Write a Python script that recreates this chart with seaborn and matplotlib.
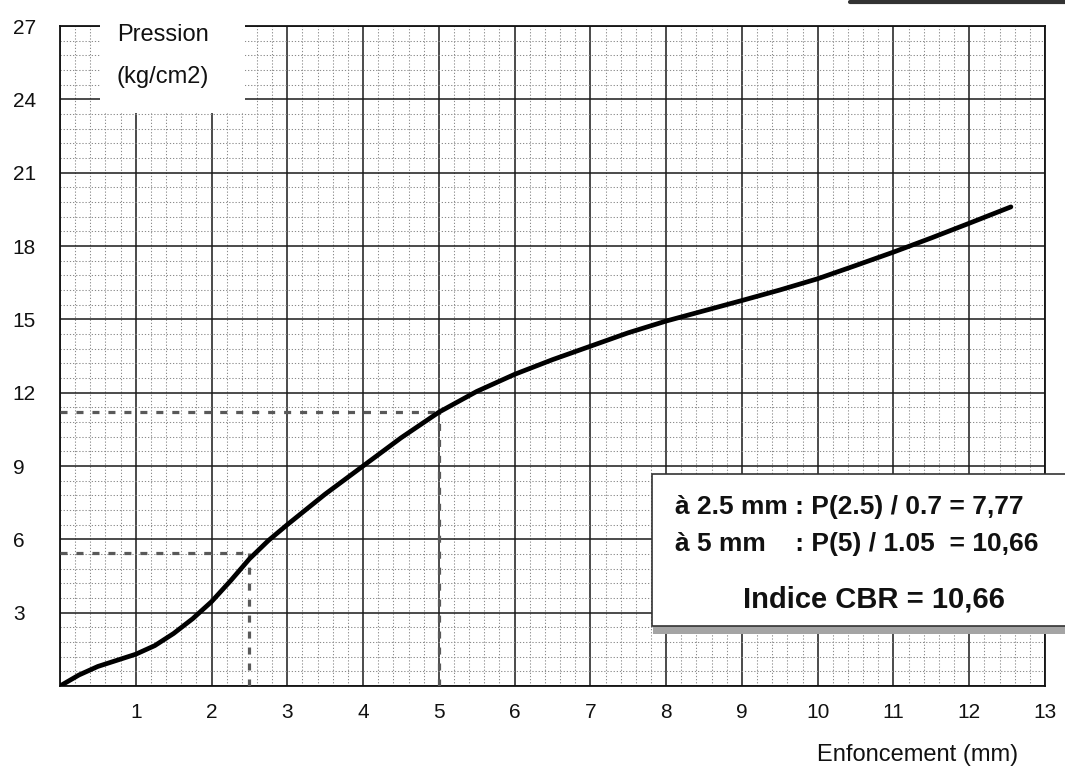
import matplotlib
matplotlib.use("Agg")
import matplotlib.pyplot as plt
from matplotlib.patches import Rectangle
from matplotlib.lines import Line2D
from matplotlib.ticker import MultipleLocator
import seaborn as sns
import pandas as pd

# ---- data ----
enfoncement = [0, 0.25, 0.5, 0.75, 1, 1.25, 1.5, 1.75, 2, 2.25, 2.5, 2.75, 3,
               3.5, 4, 4.5, 5, 5.5, 6, 6.5, 7, 7.5, 8, 8.5, 9, 9.5, 10, 10.5,
               11, 11.5, 12, 12.55]
pression = [0, 0.45, 0.8, 1.05, 1.3, 1.65, 2.15, 2.75, 3.45, 4.3, 5.2, 5.95,
            6.6, 7.85, 9.0, 10.15, 11.2, 12.05, 12.75, 13.35, 13.9, 14.45,
            14.93, 15.35, 15.77, 16.2, 16.66, 17.2, 17.75, 18.33, 18.93, 19.6]
ref_x = [2.5, 5.0]
ref_p = [5.44, 11.19]
x_ticks = list(range(0, 14))
x_labels = [""] + [str(i) for i in range(1, 14)]
y_ticks = list(range(0, 28, 3))
y_labels = [""] + [str(i) for i in range(3, 28, 3)]
texte_1 = "à 2.5 mm : P(2.5) / 0.7 = 7,77"
texte_2 = "à 5 mm    : P(5) / 1.05  = 10,66"
texte_cbr = "Indice CBR = 10,66"

sns.set_style("white")
plt.rcParams['font.family'] = ['Liberation Sans', 'DejaVu Sans']

W, H = 1065, 776
fig = plt.figure(figsize=(W / 100, H / 100), dpi=100)
ax = fig.add_axes([60 / W, 1 - 686 / H, (1045 - 60) / W, (686 - 26) / H])

df = pd.DataFrame({"Enfoncement": enfoncement, "Pression": pression})
sns.lineplot(data=df, x="Enfoncement", y="Pression", color="black", lw=3.4,
             ax=ax, zorder=5)

# reference (dotted) lines
for xr, pr in zip(ref_x, ref_p):
    ax.plot([0, xr], [pr, pr], color="#595959", lw=2.3,
            linestyle=(0, (2.2, 2.8)), zorder=4)
    ax.plot([xr, xr], [0, pr], color="#595959", lw=2.3,
            linestyle=(0, (2.2, 2.8)), zorder=4)

ax.set_xlim(0, 13)
ax.set_ylim(0, 27)
ax.set_xticks(x_ticks)
ax.set_xticklabels(x_labels)
ax.set_yticks(y_ticks)
ax.set_yticklabels(y_labels)
ax.xaxis.set_minor_locator(MultipleLocator(0.2))
ax.yaxis.set_minor_locator(MultipleLocator(0.6))
ax.set_xlabel("")
ax.set_ylabel("")

ax.grid(which="major", color="#1a1a1a", lw=1.1, linestyle="-")
ax.grid(which="minor", color="#8c8c8c", lw=0.75, linestyle=(0, (1.2, 1.8)))
ax.set_axisbelow(True)

ax.tick_params(which="major", direction="out", length=7, width=1.1,
               color="#1a1a1a", labelsize=15, labelcolor="#111111")
ax.tick_params(which="minor", length=0)
ax.tick_params(axis="x", pad=5)
ax.tick_params(axis="y", pad=27)
for lab in ax.get_yticklabels():
    lab.set_horizontalalignment("left")

for s in ax.spines.values():
    s.set_visible(True)
    s.set_color("#111111")
    s.set_linewidth(1.3)

# white area behind the axis title (top-left)
fig.add_artist(Rectangle((100 / W, 1 - 113 / H), 145 / W, 113 / H,
                         transform=fig.transFigure, facecolor="white",
                         edgecolor="none", zorder=1))
fig.text(163 / W, 1 - 35 / H, "Pression", ha="center", va="center",
         fontsize=17, color="#111111", zorder=2)
fig.text(163 / W, 1 - 77 / H, "(kg/cm2)", ha="center", va="center",
         fontsize=17, color="#111111", zorder=2)

fig.text(918 / W, 1 - 755 / H, "Enfoncement (mm)", ha="center", va="center",
         fontsize=17, color="#111111")

# result box
fig.add_artist(Rectangle((653 / W, 1 - 634 / H), 1 - 653 / W, 8 / H,
                         transform=fig.transFigure, facecolor="#a4a4a4",
                         edgecolor="none", zorder=1))
fig.add_artist(Rectangle((652 / W, 1 - 626 / H), 1 - 652 / W + 0.01,
                         (626 - 474) / H, transform=fig.transFigure,
                         facecolor="white", edgecolor="#333333", lw=1.2,
                         zorder=1.1))
fig.text(675 / W, 1 - 507 / H, texte_1, ha="left", va="center",
         fontsize=19, fontweight="bold", color="#111111", zorder=2)
fig.text(675 / W, 1 - 544 / H, texte_2, ha="left", va="center",
         fontsize=19, fontweight="bold", color="#111111", zorder=2)
fig.text(874 / W, 1 - 599 / H, texte_cbr, ha="center", va="center",
         fontsize=21, fontweight="bold", color="#111111", zorder=2)

# dark scan edge at the top right
fig.add_artist(Line2D([850 / W, 1.0], [1 - 1.5 / H, 1 - 1.5 / H],
                      transform=fig.transFigure, color="#333333", lw=3,
                      zorder=1))

fig.savefig("out.png", dpi=100, facecolor="white")
